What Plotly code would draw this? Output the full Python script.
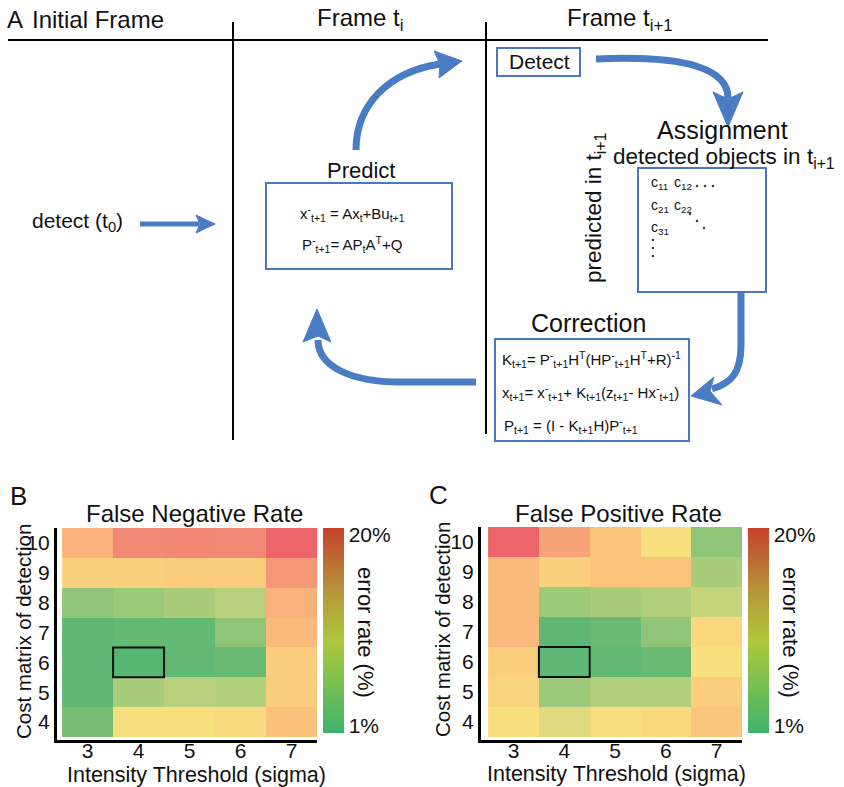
import plotly.graph_objects as go

W, H = 844, 787

# ---------------- data ----------------
intensity = [3, 4, 5, 6, 7]
cost = [4, 5, 6, 7, 8, 9, 10]

# rows listed from cost=10 (top) down to cost=4 (bottom); values in % error
fn_rows_top_down = [
    [12.0, 14.5, 14.7, 14.5, 17.5],
    [10.0, 10.0, 10.3, 10.3, 13.5],
    [4.5, 5.0, 5.5, 6.0, 12.0],
    [2.2, 2.6, 2.6, 4.5, 11.5],
    [2.2, 1.6, 2.4, 3.0, 10.3],
    [2.2, 5.5, 6.0, 5.8, 10.3],
    [3.5, 8.0, 8.0, 8.8, 11.0],
]
fp_rows_top_down = [
    [17.5, 12.8, 10.8, 8.0, 4.5],
    [11.5, 10.0, 10.8, 10.8, 5.5],
    [11.5, 5.0, 5.5, 5.8, 6.5],
    [11.5, 2.2, 3.0, 4.5, 9.0],
    [10.0, 2.2, 2.4, 3.0, 8.0],
    [9.5, 5.0, 5.8, 5.8, 10.2],
    [8.0, 7.3, 8.2, 9.0, 10.7],
]
fn_z = fn_rows_top_down[::-1]
fp_z = fp_rows_top_down[::-1]
best_cell = (4, 6)
cbar_ticks = [1, 20]
cbar_labels = ["1%", "20%"]

# ---------------- styles ----------------
FONT = "Liberation Sans, Arial, sans-serif"
NARROW = "Liberation Sans Narrow, Arial Narrow, Liberation Sans, sans-serif"
BLUE = "#4a7cc4"
BOXBLUE = "#4a78be"

cell_scale = [
    [0.000, "#4cb572"], [0.105, "#6aba73"], [0.210, "#9cc97a"],
    [0.290, "#c6d47c"], [0.368, "#f8e07f"], [0.474, "#fbd07c"],
    [0.579, "#f9b27a"], [0.684, "#f38f78"], [0.789, "#f0786f"],
    [0.895, "#ec5f6a"], [1.000, "#e24a5c"],
]
bar_scale = [
    [0.00, "#3fb46d"], [0.20, "#6fbd55"], [0.45, "#aec83c"],
    [0.70, "#b7943a"], [0.85, "#bd6a33"], [1.00, "#c6402a"],
]


def px(x):
    return x / W


def py(y):
    return 1 - y / H


def pt(x, y):
    return f"{px(x):.5f},{py(y):.5f}"


fig = go.Figure()

# ---------------- heatmaps ----------------
for i, (z, xa, ya, cbx) in enumerate([(fn_z, "x", "y", 323), (fp_z, "x2", "y2", 748)]):
    fig.add_trace(go.Heatmap(
        x=intensity, y=cost, z=z, xaxis=xa, yaxis=ya,
        colorscale=cell_scale, zmin=1, zmax=20, showscale=False,
        hoverinfo="skip"))
    fig.add_trace(go.Scatter(
        x=[intensity[0], intensity[0]], y=[cost[0], cost[0]], xaxis=xa, yaxis=ya,
        mode="markers", hoverinfo="skip", showlegend=False,
        marker=dict(color=cbar_ticks, colorscale=bar_scale, cmin=0.3, cmax=20.7,
                    opacity=0, size=1, showscale=True,
                    colorbar=dict(x=px(cbx), xanchor="left", xpad=0, ypad=0,
                                  y=py(528), yanchor="top", len=205 / H,
                                  lenmode="fraction", thickness=21,
                                  outlinewidth=0, ticks="",
                                  tickvals=cbar_ticks, ticktext=cbar_labels,
                                  tickfont=dict(size=21, family=FONT, color="#111")))))

axis_common = dict(showgrid=False, zeroline=False, showline=True, linecolor="black",
                   linewidth=3, ticks="", tickfont=dict(size=21, family=FONT, color="#111"))
fig.update_layout(
    xaxis=dict(domain=[px(57), px(317)], range=[2.40, 7.5], anchor="y",
               tickvals=intensity, ticklabelstandoff=-10, **axis_common),
    yaxis=dict(domain=[py(740), py(528)], range=[3.40, 10.5], anchor="x",
               tickvals=cost, **axis_common),
    xaxis2=dict(domain=[px(481), px(742)], range=[2.36, 7.5], anchor="y2",
                tickvals=intensity, ticklabelstandoff=-10, **axis_common),
    yaxis2=dict(domain=[py(740), py(527)], range=[3.40, 10.5], anchor="x2",
                tickvals=cost, **axis_common),
)

shapes = []
ann = []

# highlight boxes
for xa, ya in [("x", "y"), ("x2", "y2")]:
    shapes.append(dict(type="rect", xref=xa, yref=ya,
                       x0=best_cell[0] - 0.5, x1=best_cell[0] + 0.5,
                       y0=best_cell[1] - 0.5, y1=best_cell[1] + 0.5,
                       line=dict(color="#111", width=2)))


def text(x, y, s, size, family=FONT, angle=0, xanchor="center", color="#111"):
    ann.append(dict(x=px(x), y=py(y), xref="paper", yref="paper", text=s,
                    showarrow=False, textangle=angle, xanchor=xanchor, yanchor="middle",
                    font=dict(size=size, family=family, color=color)))


# panel B / C texts
text(18, 496, "B", 26)
text(438, 495, "C", 26)
text(194, 513, "False Negative Rate", 24)
text(618, 513, "False Positive Rate", 24)
text(23, 632, "Cost matrix of detection", 20.5, angle=-90)
text(442, 630, "Cost matrix of detection", 20.5, angle=-90)
text(196, 775, "Intensity Threshold (sigma)", 21.5)
text(616, 774, "Intensity Threshold (sigma)", 21.5)
text(366, 632, "error rate (%)", 22, angle=90)
text(791, 632, "error rate (%)", 22, angle=90)

# ---------------- panel A ----------------
def line(x0, y0, x1, y1, color="black", width=2):
    shapes.append(dict(type="line", xref="paper", yref="paper",
                       x0=px(x0), y0=py(y0), x1=px(x1), y1=py(y1),
                       line=dict(color=color, width=width)))


def box(x0, y0, x1, y1):
    shapes.append(dict(type="rect", xref="paper", yref="paper",
                       x0=px(x0), y0=py(y0), x1=px(x1), y1=py(y1),
                       line=dict(color=BOXBLUE, width=2), fillcolor="rgba(0,0,0,0)"))


def path(d, width=7):
    shapes.append(dict(type="path", xref="paper", yref="paper", path=d,
                       line=dict(color=BLUE, width=width), fillcolor="rgba(0,0,0,0)"))


def head(points):
    d = "M " + " L ".join(pt(*p) for p in points) + " Z"
    shapes.append(dict(type="path", xref="paper", yref="paper", path=d,
                       line=dict(color=BLUE, width=1), fillcolor=BLUE))


def dot(x, y, r=1.0):
    shapes.append(dict(type="circle", xref="paper", yref="paper",
                       x0=px(x - r), x1=px(x + r), y0=py(y + r), y1=py(y - r),
                       line=dict(color="#222", width=0.5), fillcolor="#222"))


line(8, 40, 768, 40)
line(233, 22, 233, 440)
line(486, 22, 486, 434)

text(15, 20, "A", 24, family=NARROW)
text(98, 20, "Initial Frame", 24, family=NARROW)
text(360, 20, "Frame t<sub>i</sub>", 24, family=NARROW)
text(620, 20, "Frame t<sub>i+1</sub>", 24, family=NARROW)

# detect (t0)
text(77, 222, "detect (t<sub>0</sub>)", 21)
path(f"M {pt(140, 224)} L {pt(199, 224)}", width=5)
head([(215, 224), (196, 215), (200, 224), (196, 233)])

# predict
text(361, 170, "Predict", 22)
box(266, 183, 452, 269)
text(352, 213, "x<sup>-</sup><sub>t+1</sub> = Ax<sub>t</sub>+Bu<sub>t+1</sub>", 15)
text(352, 245, "P<sup>-</sup><sub>t+1</sub>= AP<sub>t</sub>A<sup>T</sup>+Q", 15)

# predict -> detect arrow
path(f"M {pt(356, 150)} C {pt(356, 105)} {pt(388, 72)} {pt(440, 64)}")
head([(462, 61), (434, 51), (440, 64), (439, 78)])

# detect box
box(497, 48, 580, 76)
text(539, 62, "Detect", 21, family=NARROW)

# detect -> assignment arrow
path(f"M {pt(596, 59)} C {pt(690, 55)} {pt(728, 70)} {pt(728, 98)}")
head([(728, 127), (713, 92), (728, 99), (743, 92)])

# assignment
text(722, 130, "Assignment", 25)
text(724, 158, "detected objects in t<sub>i+1</sub>", 22.5)
text(595, 208, "predicted in t<sub>i+1</sub>", 22.5, angle=-90)
box(638, 168, 766, 292)
text(649, 183, "c<sub>11</sub>", 14, xanchor="left")
text(672, 183, "c<sub>12</sub>", 14, xanchor="left")
text(649, 206, "c<sub>21</sub>", 14, xanchor="left")
text(672, 206, "c<sub>22</sub>", 14, xanchor="left")
text(649, 228, "c<sub>31</sub>", 14, xanchor="left")
for dx, dy in [(697, 186), (705, 186), (713, 186),
               (690, 214), (697, 221), (704, 228),
               (653, 240), (653, 248), (653, 256)]:
    dot(dx, dy)

# assignment -> correction arrow
path(f"M {pt(741, 292)} L {pt(741, 345)} C {pt(741, 372)} {pt(732, 383)} {pt(712, 389)}")
head([(691, 396), (714, 377), (710, 391), (722, 405)])

# correction
text(588, 323, "Correction", 25)
box(495, 339, 689, 441)
text(500, 360, "K<sub>t+1</sub>= P<sup>-</sup><sub>t+1</sub>H<sup>T</sup>(HP<sup>-</sup><sub>t+1</sub>H<sup>T</sup>+R)<sup>-1</sup>",
     15, xanchor="left")
text(500, 392, "x<sub>t+1</sub>= x<sup>-</sup><sub>t+1</sub>+ K<sub>t+1</sub>(z<sub>t+1</sub>- Hx<sup>-</sup><sub>t+1</sub>)",
     15, xanchor="left")
text(502, 425, "P<sub>t+1</sub> = (I - K<sub>t+1</sub>H)P<sup>-</sup><sub>t+1</sub>", 15, xanchor="left")

# correction -> predict arrow
path(f"M {pt(476, 382)} L {pt(400, 382)} C {pt(350, 382)} {pt(318, 366)} {pt(318, 340)}")
head([(317, 309), (303, 342), (318, 336), (331, 342)])

fig.update_layout(
    width=W, height=H, margin=dict(l=0, r=0, t=0, b=0),
    paper_bgcolor="white", plot_bgcolor="white", showlegend=False,
    shapes=shapes, annotations=ann,
    font=dict(family=FONT, color="#111"),
)

fig.write_html("out.html", config={"displayModeBar": False},
               post_script="document.body.style.margin='0';document.body.style.overflow='hidden';")
